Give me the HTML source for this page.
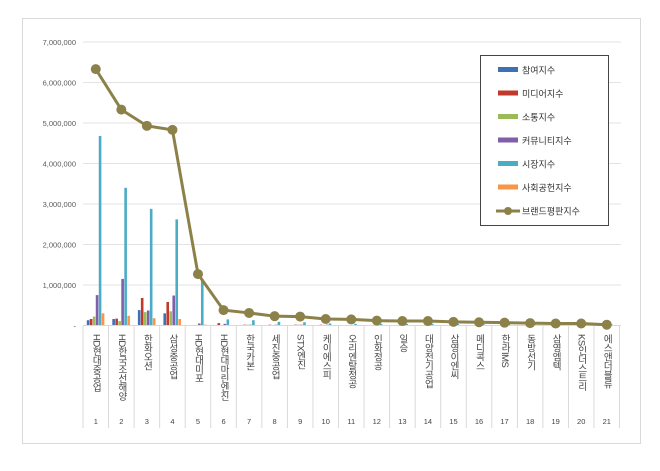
<!DOCTYPE html><html><head><meta charset="utf-8"><style>
body{margin:0;background:#fff;}
svg text{font-family:"Liberation Sans","Noto Sans CJK KR",sans-serif;}
</style></head><body>
<svg width="660" height="466" xmlns="http://www.w3.org/2000/svg">
<rect x="0" y="0" width="660" height="466" fill="#fff"/>
<rect x="22.5" y="18.5" width="618" height="425" fill="none" stroke="#d9d9d9"/>
<g id="grid" stroke="#e3e3e3" stroke-width="1"></g>
<g id="yl" font-size="7.5" fill="#595959" text-anchor="end"></g>
<g id="bars"></g>
<g id="xl"></g>
<polyline id="ln" fill="none" stroke="#8b8149" stroke-width="3"/>
<g id="dots" fill="#8b8149"></g>
<rect x="480.5" y="55.5" width="128" height="170" fill="#fff" stroke="#444"/>
<g id="leg" font-size="9" fill="#333"></g>
</svg>
<script>
var ns="http://www.w3.org/2000/svg";
function el(t,a,p,txt){var e=document.createElementNS(ns,t);for(var k in a)e.setAttribute(k,a[k]);if(txt!=null)e.textContent=txt;document.getElementById(p).appendChild(e);return e;}
var y0=325.5,s=40.5/1e6,L=83,W=25.55;
for(var i=0;i<=7;i++){var y=y0-i*1e6*s;if(i>0)el('line',{x1:L,x2:621,y1:y,y2:y},'grid');el('text',{x:76,y:y+3},'yl',i==0?'-':(i+',000,000'));}
var cols=['#3f6fb5','#c0392b','#9bbb59','#7f5fa8','#4bacc6','#f79646'];
var B=[[.13,.16,.22,.75,4.68,.3],[.16,.17,.11,1.15,3.4,.24],[.38,.68,.33,.37,2.88,.18],[.3,.58,.35,.74,2.62,.16],[.01,.01,.01,.05,1.15,.02],[.01,.06,.01,.04,.15,.01],[.01,.02,.02,.02,.13,.01],[.01,.02,.01,.02,.09,.01],[.01,.02,.02,.02,.08,.01],[.01,.02,.01,.02,.05,.01]];
var V=[6.33,5.33,4.93,4.83,1.27,.38,.31,.23,.22,.16,.15,.12,.11,.11,.09,.08,.07,.06,.05,.05,.02];
var names=['HD현대중공업','HD한국조선해양','한화오션','삼성중공업','HD현대미포','HD현대마린엔진','한국카본','세진중공업','STX엔진','케이에스피','오리엔탈정공','인화정공','일승','대양전기공업','삼영이엔씨','메디콕스','한라IMS','동방선기','삼영엠텍','KS인더스트리','에스앤더블류'];
var pts=[];
for(var c=0;c<21;c++){var cx=L+W*(c+.5);var b=B[c]||[.005,.01,.005,.01,.04,.005];
for(var j=0;j<6;j++){var h=b[j]*1e6*s;el('rect',{x:cx-9+j*3,y:y0-h,width:2.6,height:h,fill:cols[j]},'bars');}
el('line',{x1:L+W*c,x2:L+W*c,y1:y0,y2:428,stroke:'#d9d9d9'},'xl');
el('text',{x:cx,y:334,'font-size':'9.5',fill:'#444','writing-mode':'tb','glyph-orientation-vertical':'0','letter-spacing':'-0.5'},'xl',names[c]);
el('text',{x:cx,y:424,'font-size':'7.5',fill:'#444','text-anchor':'middle'},'xl',String(c+1));
var py=y0-V[c]*1e6*s;pts.push(cx+','+py);el('circle',{cx:cx,cy:py,r:5},'dots');}
el('line',{x1:L+W*21,x2:L+W*21,y1:y0,y2:428,stroke:'#d9d9d9'},'xl');
el('line',{x1:L,x2:621,y1:y0,y2:y0,stroke:'#d9d9d9'},'xl');
document.getElementById('ln').setAttribute('points',pts.join(' '));
var ln=['참여지수','미디어지수','소통지수','커뮤니티지수','시장지수','사회공헌지수','브랜드평판지수'];
for(var k=0;k<7;k++){var y=70+k*23.5;
if(k<6)el('rect',{x:498,y:y-3,width:20,height:5,fill:cols[k]},'leg');else{el('line',{x1:496,x2:520,y1:y,y2:y,stroke:'#8b8149','stroke-width':3},'leg');el('circle',{cx:508,cy:y,r:4,fill:'#8b8149'},'leg');}
el('text',{x:522,y:y+3.5},'leg',ln[k]);}
</script>
</body></html>
